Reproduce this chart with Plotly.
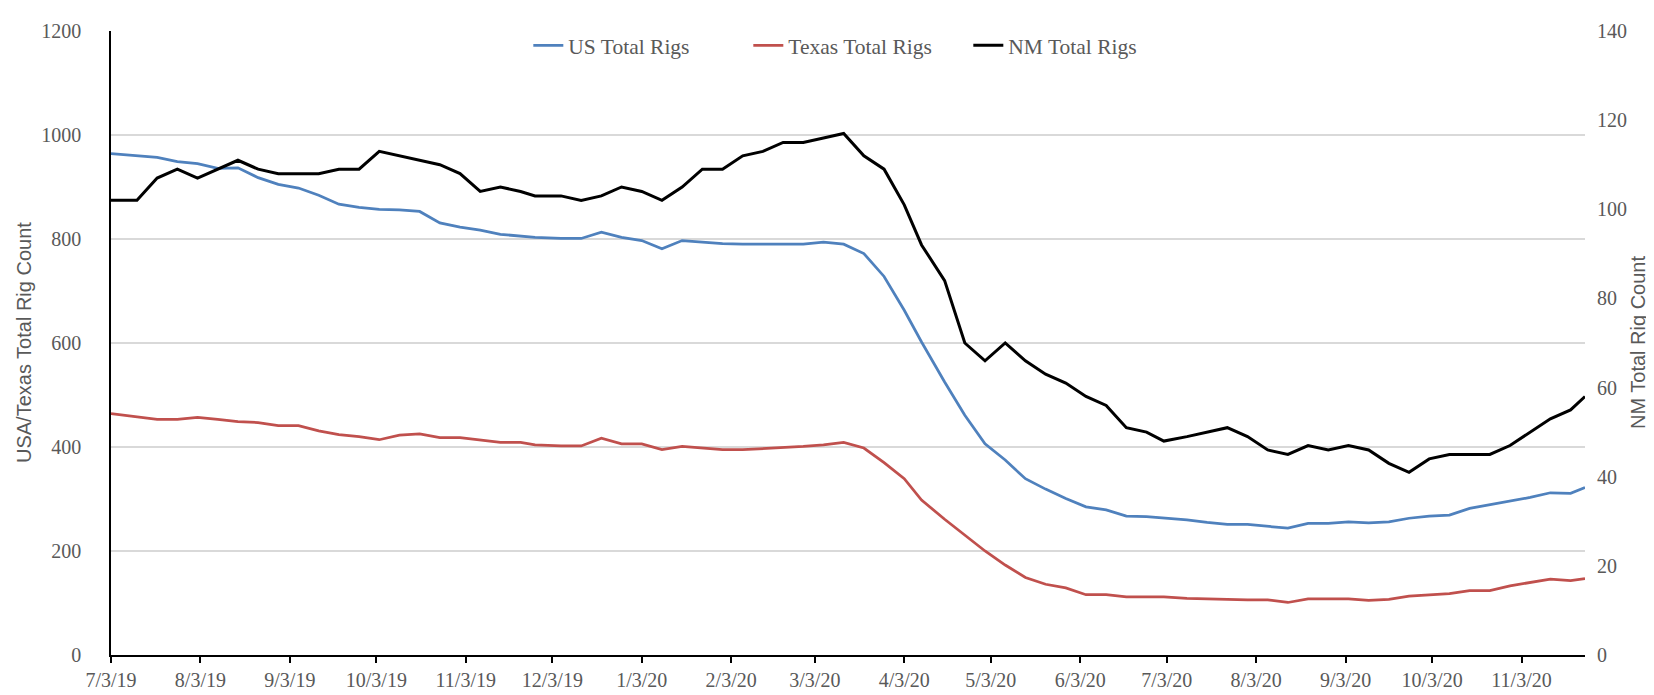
import plotly.graph_objects as go

# Weekly rig count report dates
dates = [
    "2019-07-03", "2019-07-12", "2019-07-19", "2019-07-26", "2019-08-02", "2019-08-09",
    "2019-08-16", "2019-08-23", "2019-08-30", "2019-09-06", "2019-09-13", "2019-09-20",
    "2019-09-27", "2019-10-04", "2019-10-11", "2019-10-18", "2019-10-25", "2019-11-01",
    "2019-11-08", "2019-11-15", "2019-11-22", "2019-11-27", "2019-12-06", "2019-12-13",
    "2019-12-20", "2019-12-27",
    "2020-01-03", "2020-01-10", "2020-01-17", "2020-01-24", "2020-01-31", "2020-02-07",
    "2020-02-14", "2020-02-21", "2020-02-28", "2020-03-06", "2020-03-13", "2020-03-20",
    "2020-03-27", "2020-04-03", "2020-04-09", "2020-04-17", "2020-04-24", "2020-05-01",
    "2020-05-08", "2020-05-15", "2020-05-22", "2020-05-29", "2020-06-05", "2020-06-12",
    "2020-06-19", "2020-06-26", "2020-07-02", "2020-07-10", "2020-07-17", "2020-07-24",
    "2020-07-31", "2020-08-07", "2020-08-14", "2020-08-21", "2020-08-28", "2020-09-04",
    "2020-09-11", "2020-09-18", "2020-09-25", "2020-10-02", "2020-10-09", "2020-10-16",
    "2020-10-23", "2020-10-30", "2020-11-06", "2020-11-13", "2020-11-20", "2020-11-25",
]

us_rigs = [
    964, 960, 957, 949, 945, 936, 937, 918, 905, 898, 884, 867, 861, 857, 856, 853,
    831, 823, 817, 809, 805, 803, 801, 801, 813, 803,
    797, 781, 797, 794, 791, 790, 790, 790, 790, 794, 790, 772, 728, 663, 602, 525,
    461, 406, 375, 339, 319, 301, 285, 279, 267, 266, 264, 260, 255, 251, 251, 248,
    244, 253, 253, 256, 254, 256, 263, 267, 269, 282, 289, 295, 303, 312, 311, 322,
]

texas_rigs = [
    464, 458, 453, 453, 457, 453, 449, 447, 441, 441, 431, 424, 420, 414, 423, 425,
    418, 418, 414, 409, 409, 404, 402, 402, 417, 406,
    406, 395, 401, 398, 395, 395, 397, 398, 401, 404, 409, 398, 370, 339, 298, 261,
    230, 200, 173, 149, 136, 129, 116, 116, 112, 112, 112, 109, 108, 106, 106, 106,
    101, 108, 108, 108, 105, 107, 113, 115, 118, 124, 124, 133, 140, 146, 143, 147,
]

nm_rigs = [
    102, 102, 107, 109, 107, 109, 111, 109, 108, 108, 108, 109, 109, 113, 112, 111,
    110, 108, 104, 105, 104, 103, 103, 102, 103, 105,
    104, 102, 105, 109, 109, 112, 113, 115, 115, 116, 117, 112, 109, 101, 92, 84,
    70, 66, 70, 66, 63, 61, 58, 56, 51, 50, 48, 49, 50, 51, 49, 46,
    45, 47, 46, 47, 46, 43, 41, 44, 45, 45, 45, 47, 50, 53, 55, 58,
]

tick_dates = [
    "2019-07-03", "2019-08-03", "2019-09-03", "2019-10-03", "2019-11-03", "2019-12-03",
    "2020-01-03", "2020-02-03", "2020-03-03", "2020-04-03", "2020-05-03", "2020-06-03",
    "2020-07-03", "2020-08-03", "2020-09-03", "2020-10-03", "2020-11-03",
]
tick_labels = [
    "7/3/19", "8/3/19", "9/3/19", "10/3/19", "11/3/19", "12/3/19",
    "1/3/20", "2/3/20", "3/3/20", "4/3/20", "5/3/20", "6/3/20",
    "7/3/20", "8/3/20", "9/3/20", "10/3/20", "11/3/20",
]

colors = {
    'us': '#4f81bd',
    'texas': '#c0504d',
    'nm': '#000000',
    'grid': '#d9d9d9',
    'text': '#595959',
}
serif = "Liberation Serif, Times New Roman, serif"
sans = "Liberation Sans, Arial, sans-serif"

fig = go.Figure()

# US and Texas on the left axis, NM on the right
fig.add_trace(go.Scatter(x=dates, y=us_rigs, mode='lines', name='US Total Rigs',
                         line=dict(color=colors['us'], width=2.75)))
fig.add_trace(go.Scatter(x=dates, y=texas_rigs, mode='lines', name='Texas Total Rigs',
                         line=dict(color=colors['texas'], width=2.75)))
fig.add_trace(go.Scatter(x=dates, y=nm_rigs, mode='lines', name='NM Total Rigs',
                         line=dict(color=colors['nm'], width=3), yaxis='y2'))

fig.update_layout(
    width=1654, height=695,
    margin=dict(l=103, r=77, t=19, b=36),
    plot_bgcolor='white',
    paper_bgcolor='white',
    font=dict(family=serif, size=20, color=colors['text']),
    xaxis=dict(
        type='date',
        range=[dates[0], dates[-1]],
        tickvals=tick_dates,
        ticktext=tick_labels,
        showgrid=False,
        showline=True, linecolor='#000000', linewidth=1.5,
        ticks='outside', ticklen=6, tickcolor='#000000', tickwidth=1.5,
        tickfont=dict(family=serif, size=20, color=colors['text']),
        zeroline=False,
    ),
    yaxis=dict(
        range=[0, 1200], dtick=200,
        showgrid=True, gridcolor=colors['grid'], gridwidth=1.5,
        showline=True, linecolor='#000000', linewidth=1.5,
        ticks='', ticklabelstandoff=24,
        tickfont=dict(family=serif, size=20, color=colors['text']),
        zeroline=False,
    ),
    yaxis2=dict(
        overlaying='y', side='right',
        range=[0, 140], dtick=20,
        showgrid=False, showline=False,
        ticks='', ticklabelstandoff=11,
        tickfont=dict(family=serif, size=20, color=colors['text']),
        zeroline=False,
    ),
    legend=dict(
        orientation='h',
        x=0.507, y=0.977, xanchor='center', yanchor='middle',
        font=dict(family=serif, size=21.5, color=colors['text']),
        bgcolor='rgba(0,0,0,0)',
        itemwidth=30,
        entrywidth=175, entrywidthmode='pixels',
    ),
    showlegend=True,
)

# Axis titles
fig.add_annotation(text='USA/Texas Total Rig Count', xref='paper', yref='paper',
                   x=0, y=0.5, xshift=-87, xanchor='center', yanchor='middle',
                   textangle=-90, showarrow=False,
                   font=dict(family=sans, size=20, color=colors['text']))
fig.add_annotation(text='NM Total Rig Count', xref='paper', yref='paper',
                   x=1, y=0.5, xshift=53, xanchor='center', yanchor='middle',
                   textangle=-90, showarrow=False,
                   font=dict(family=sans, size=20, color=colors['text']))

fig.write_html("out.html")
